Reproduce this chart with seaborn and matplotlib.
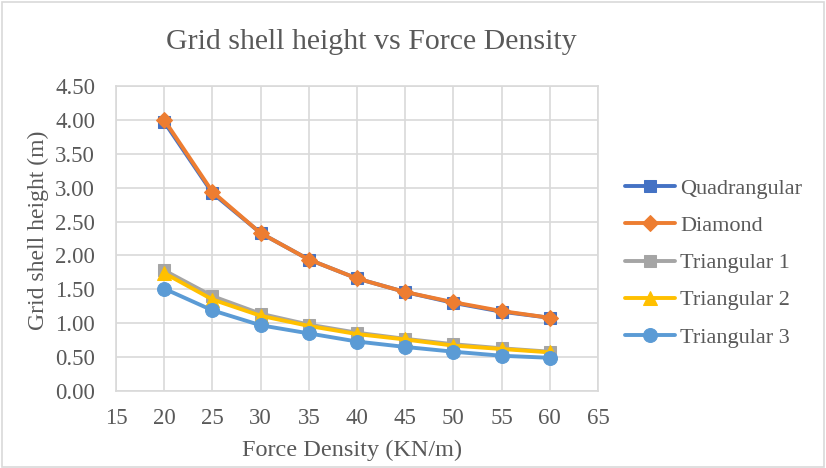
import matplotlib
matplotlib.use("Agg")
import matplotlib.pyplot as plt
import seaborn as sns
import pandas as pd
from matplotlib.patches import Rectangle

force_density = [20, 25, 30, 35, 40, 45, 50, 55, 60]
quadrangular = [3.97, 2.92, 2.33, 1.94, 1.66, 1.46, 1.30, 1.17, 1.08]
diamond = [4.00, 2.94, 2.33, 1.94, 1.66, 1.46, 1.31, 1.18, 1.08]
triangular1 = [1.78, 1.40, 1.14, 0.98, 0.86, 0.77, 0.69, 0.63, 0.58]
triangular2 = [1.74, 1.35, 1.11, 0.96, 0.84, 0.76, 0.67, 0.62, 0.57]
triangular3 = [1.51, 1.19, 0.97, 0.85, 0.73, 0.65, 0.58, 0.52, 0.49]

series_names = ["Quadrangular", "Diamond", "Triangular 1", "Triangular 2", "Triangular 3"]
series_values = [quadrangular, diamond, triangular1, triangular2, triangular3]
colors = ["#4472C4", "#ED7D31", "#A5A5A5", "#FFC000", "#5B9BD5"]
markers = ["s", "D", "s", "^", "o"]
msizes = [9, 8, 9, 10, 10]

sns.set_theme(style="white")
plt.rcParams["font.family"] = ["Liberation Serif", "DejaVu Serif"]

fig = plt.figure(figsize=(8.26, 4.68), dpi=100)
ax = fig.add_axes([116/826, 1 - 391/468, (598-116)/826, (391-86)/468])

for name, vals, c, m, ms in zip(series_names, series_values, colors, markers, msizes):
    df = pd.DataFrame({"x": force_density, "y": vals})
    sns.lineplot(data=df, x="x", y="y", ax=ax, color=c, marker=m, markersize=ms,
                 markeredgecolor=c, linewidth=2.8, label=name)

ax.set_xlim(15, 65)
ax.set_ylim(0, 4.5)
ax.set_xticks(range(15, 66, 5))
ax.set_yticks([i * 0.5 for i in range(10)])
ax.set_yticklabels([f"{i*0.5:.2f}" for i in range(10)])
ax.grid(True, color="#D9D9D9", linewidth=1.2)
for s in ax.spines.values():
    s.set_color("#D9D9D9")
    s.set_linewidth(1.2)
ax.tick_params(axis="both", labelsize=16.5, colors="#595959", length=0)
ax.tick_params(axis="y", pad=15)
ax.tick_params(axis="x", pad=12)
ax.set_xlabel("Force Density (KN/m)", fontsize=17.5, color="#595959")
ax.xaxis.set_label_coords((352.5 - 116) / (598 - 116), -(450 - 391) / (391 - 86))
ax.xaxis.label.set_va("center")
ax.set_ylabel("Grid shell height (m)", fontsize=17, color="#595959")
ax.yaxis.set_label_coords(-(116 - 38) / (598 - 116), (391 - 230) / (391 - 86))
ax.yaxis.label.set_va("center")
fig.suptitle("Grid shell height vs Force Density", fontsize=21.5, color="#595959",
             x=371/826, y=1 - 42/468, va="center")

leg = ax.legend(loc="center left", bbox_to_anchor=(625/826, 1 - 263/468),
                bbox_transform=fig.transFigure, borderaxespad=0, borderpad=0,
                frameon=False, fontsize=16, labelcolor="#595959",
                handlelength=2.25, handletextpad=0.22, labelspacing=0.75)

fig.patches.append(Rectangle((0.002, 0.003), 0.995, 0.993, transform=fig.transFigure,
                             fill=False, edgecolor="#D9D9D9", linewidth=1.2))

fig.savefig("out.png", dpi=100)
